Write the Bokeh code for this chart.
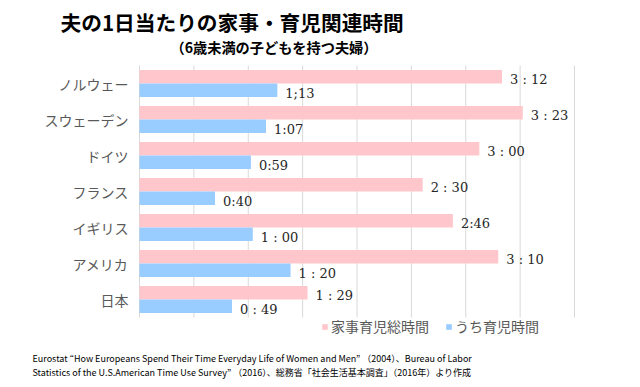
from bokeh.plotting import figure
from bokeh.models import (FactorRange, Range1d, Label, Legend, LegendItem, ColumnDataSource)
from bokeh.transform import dodge
from bokeh.core.properties import value
from bokeh.embed import file_html
from bokeh.resources import INLINE

# ---- data (minutes) ----
countries = ["ノルウェー", "スウェーデン", "ドイツ", "フランス", "イギリス", "アメリカ", "日本"]
total_min = [192, 203, 180, 150, 166, 190, 89]
child_min = [73, 67, 59, 40, 60, 80, 49]
total_labels = ["3 : 12", "3 : 23", "3 : 00", "2 : 30", "2:46", "3 : 10", "1 : 29"]
child_labels = ["1;13", "1:07", "0:59", "0:40", "1 : 00", "1 : 20", "0 : 49"]
x_ticks = [0, 28.8, 57.6, 86.4, 115.2, 144.0, 172.8, 201.6, 230.4]
series_names = ["家事育児総時間", "うち育児時間"]

title_text = "夫の1日当たりの家事・育児関連時間"
subtitle_text = "（6歳未満の子どもを持つ夫婦）"
note_line1 = "Eurostat “How Europeans Spend Their Time Everyday Life of Women and Men” （2004）、Bureau of Labor"
note_line2 = "Statistics of the U.S.American Time Use Survey” （2016）、総務省「社会生活基本調査」（2016年）より作成"

PINK = "#FFC7CB"
BLUE = "#99CCFF"
GRID = "#D9D9D9"
JP = "Noto Sans CJK JP"

# ---- layout geometry (pixels) ----
W, H = 640, 382
PLOT_L, PLOT_R, PLOT_T, PLOT_B = 139, 574, 65, 317
XMAX = 230.4
scale = (PLOT_R - PLOT_L) / XMAX
cat_px = (PLOT_B - PLOT_T) / len(countries)

src = ColumnDataSource(dict(country=countries, total=total_min, child=child_min,
                            total_label=total_labels, child_label=child_labels))

p = figure(width=W, height=H,
           y_range=FactorRange(factors=countries[::-1],
                               range_padding=PLOT_T / cat_px,
                               range_padding_units="absolute"),
           x_range=Range1d(-PLOT_L / scale, XMAX + (W - PLOT_R) / scale),
           x_axis_location=None, y_axis_location=None,
           min_border=0, output_backend="svg", toolbar_location=None,
           outline_line_color=None)
p.grid.visible = False

# vertical grid lines spanning the category area
p.segment(x0=x_ticks, x1=x_ticks, y0=[0] * len(x_ticks), y1=[len(countries)] * len(x_ticks),
          line_color=GRID, line_width=1)

r1 = p.hbar(y=dodge("country", 0.1875, range=p.y_range), left=0, right="total",
            height=0.375, fill_color=PINK, line_color=None, source=src)
r2 = p.hbar(y=dodge("country", -0.1875, range=p.y_range), left=0, right="child",
            height=0.375, fill_color=BLUE, line_color=None, source=src)

common = dict(text_baseline="middle", text_align="left", x_offset=8, y_offset=3,
              text_font=value("DejaVu Serif"), text_font_size="13px",
              text_color="#262626", source=src)
p.text(x="total", y=dodge("country", 0.1875, range=p.y_range), text="total_label", **common)
p.text(x="child", y=dodge("country", -0.1875, range=p.y_range), text="child_label", **common)

# category labels
p.text(x=0, y="country", text="country", x_offset=-11, text_align="right",
       text_baseline="middle", text_font=value(JP), text_font_size="14px",
       text_color="#595959", source=src)

legend = Legend(items=[LegendItem(label=series_names[0], renderers=[r1]),
                       LegendItem(label=series_names[1], renderers=[r2])],
                orientation="horizontal", location=(321, 46),
                glyph_width=7, glyph_height=7, label_standoff=3, spacing=16,
                label_text_font=JP, label_text_font_size="14px",
                label_text_color="#595959", background_fill_alpha=0,
                border_line_color=None, padding=0, margin=0)
p.add_layout(legend)

p.add_layout(Label(x=60, y=H - 21, x_units="screen", y_units="screen", text=title_text,
                   text_font=JP, text_font_style="bold", text_font_size="20.7px",
                   text_baseline="middle", text_color="black"))
p.add_layout(Label(x=170, y=H - 46, x_units="screen", y_units="screen", text=subtitle_text,
                   text_font=JP, text_font_style="bold", text_font_size="14.2px",
                   text_baseline="middle", text_color="black"))
p.add_layout(Label(x=32, y=H - 358, x_units="screen", y_units="screen", text=note_line1,
                   text_font=JP, text_font_size="9px",
                   text_baseline="middle", text_color="black"))
p.add_layout(Label(x=32, y=H - 372, x_units="screen", y_units="screen", text=note_line2,
                   text_font=JP, text_font_size="9px",
                   text_baseline="middle", text_color="black"))

open("out.html", "w").write(file_html(p, INLINE))
